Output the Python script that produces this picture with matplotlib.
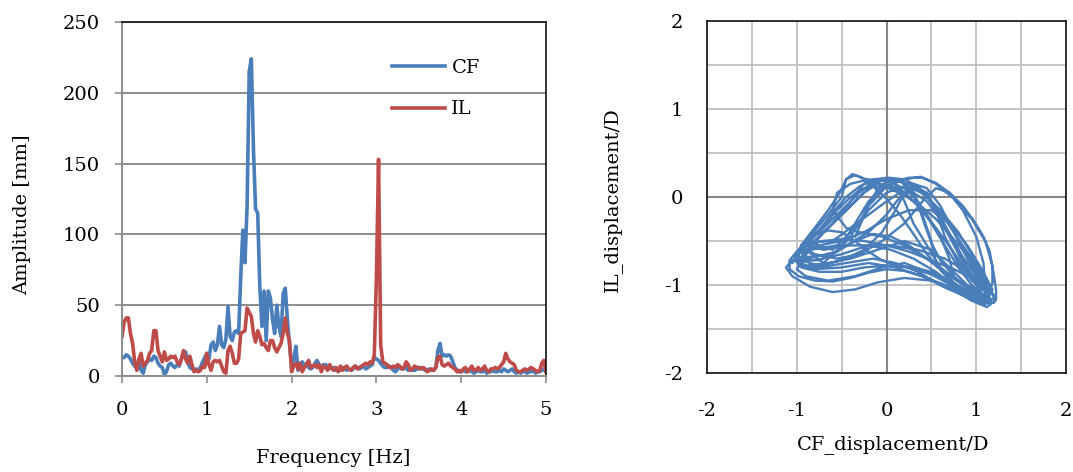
import numpy as np
import matplotlib
matplotlib.use("Agg")
import matplotlib.pyplot as plt

plt.rcParams["font.family"] = ["DejaVu Serif"]
plt.rcParams["axes.unicode_minus"] = False

# spectrum, 0 - 5 Hz every 0.025 Hz
freq = np.linspace(0, 5, 201)
cf_amp = [
    13, 13, 15, 14, 12, 9, 7, 6, 10, 4,
    2, 8, 10, 12, 11, 14, 13, 9, 7, 6,
    1, 3, 8, 9, 7, 6, 8, 7, 12, 16,
    17, 10, 6, 5, 4, 5, 4, 6, 10, 13,
    16, 12, 22, 24, 18, 22, 35, 22, 20, 26,
    49, 28, 25, 31, 32, 30, 70, 103, 80, 120,
    215, 224, 160, 118, 115, 63, 35, 60, 25, 60,
    55, 40, 30, 50, 35, 28, 58, 62, 40, 22,
    7, 12, 21, 4, 8, 10, 7, 9, 6, 5,
    6, 9, 11, 8, 6, 8, 8, 7, 6, 5,
    6, 4, 5, 4, 6, 5, 4, 5, 4, 5,
    7, 6, 5, 6, 7, 5, 6, 7, 8, 13,
    12, 11, 9, 7, 6, 6, 7, 6, 4, 3,
    5, 6, 5, 5, 6, 4, 5, 4, 4, 5,
    5, 6, 5, 4, 4, 5, 4, 4, 6, 18,
    23, 14, 15, 14, 15, 14, 10, 6, 4, 3,
    3, 4, 3, 3, 4, 3, 2, 3, 4, 3,
    3, 4, 2, 3, 3, 4, 3, 3, 4, 3,
    5, 4, 3, 4, 5, 3, 2, 3, 2, 3,
    3, 2, 3, 3, 4, 2, 3, 3, 4, 5,
    3,
]
il_amp = [
    28, 38, 41, 41, 30, 23, 10, 4, 12, 16,
    7, 9, 11, 16, 18, 32, 32, 18, 14, 10,
    17, 11, 12, 14, 13, 14, 10, 8, 12, 18,
    12, 9, 14, 8, 3, 4, 3, 4, 7, 6,
    16, 8, 4, 10, 11, 10, 11, 7, 3, 2,
    18, 21, 16, 9, 9, 12, 30, 31, 32, 48,
    45, 42, 30, 24, 32, 28, 22, 23, 20, 18,
    25, 25, 20, 17, 20, 23, 30, 41, 30, 25,
    3, 7, 9, 5, 9, 3, 6, 8, 11, 6,
    7, 8, 6, 8, 3, 7, 6, 4, 8, 5,
    4, 6, 3, 7, 4, 6, 7, 5, 4, 6,
    7, 5, 6, 7, 8, 9, 8, 10, 9, 15,
    70, 153, 22, 10, 9, 8, 6, 6, 7, 6,
    8, 7, 5, 6, 10, 8, 4, 5, 7, 6,
    6, 5, 6, 5, 3, 4, 5, 4, 6, 13,
    14, 8, 7, 8, 9, 7, 6, 5, 3, 4,
    3, 5, 6, 3, 5, 7, 4, 4, 6, 4,
    5, 7, 4, 3, 5, 5, 6, 5, 6, 8,
    10, 16, 12, 10, 9, 8, 4, 3, 3, 4,
    5, 4, 5, 6, 5, 4, 3, 4, 9, 11,
    3,
]

# orbit traced by hand (CF/D, IL/D)
orbit_x = [
    -0.35, -0.2, 0.0, 0.2, 0.38, 0.55, 0.75, 0.95, 1.1, 1.18, 1.22, 1.22, 1.12, 1.0, 0.8, 0.55, 0.3, 0.05,
    -0.2, -0.5, -0.8, -1.05, -1.12, -1.05, -0.85, -0.6, -0.35, -0.1, 0.2, 0.5, 0.8, 1.05, 1.15, 1.05, 0.85, 0.65, 0.45, 0.25, 0.05, -0.15,
    -0.3, -0.45, -0.6, -0.8, -0.95, -1.0, -0.9, -0.65, -0.4, -0.1, 0.2, 0.5, 0.75, 0.95, 1.1, 1.0, 0.8, 0.55, 0.35, 0.15, -0.1, -0.35, -0.45, -0.5, -0.65, -0.85,
    -0.9, -0.7, -0.45, -0.2, 0.0, 0.15, 0.3, 0.45, 0.6, 0.75, 0.9, 1.05, 1.15, 1.05, 0.85, 0.6, 0.35, 0.1, -0.15, -0.45, -0.75, -0.95,
    -0.95, -0.85, -0.65, -0.45, -0.25, -0.1, 0.05, 0.25, 0.45, 0.6, 0.7, 0.75, 0.65, 0.45, 0.2, -0.05, -0.35, -0.65, -0.9, -1.0,
    -0.8, -0.6, -0.4, -0.25, -0.05, 0.15, 0.3, 0.4, 0.5, 0.55, 0.7, 0.9, 1.1, 1.2, 1.12, 0.95, 0.8, 0.6, 0.4, 0.2, 0.0, -0.2, -0.35, -0.5,
    -0.6, -0.75, -0.9, -0.95, -0.8, -0.55, -0.3, -0.05, 0.2, 0.4, 0.55, 0.7, 0.85, 1.0, 1.08, 1.1, 0.95, 0.7, 0.45, 0.2, -0.05, -0.3,
    -0.45, -0.6, -0.55, -0.4, -0.2, 0.0, 0.2, 0.35, 0.5, 0.65, 0.8, 0.95, 1.15, 1.1, 0.9, 0.65, 0.35, 0.05, -0.25, -0.55, -0.85, -1.0, -0.95,
    -0.75, -0.5, -0.25, -0.05, 0.1, 0.2, 0.3, 0.45, 0.55, 0.65, 0.8, 0.95, 1.15, 1.18, 1.05, 0.9, 0.7, 0.5, 0.25, 0.0, -0.25, -0.5, -0.75,
    -0.85, -0.7, -0.5, -0.3, -0.15, 0.0, 0.1, 0.2, 0.3, 0.45, 0.6, 0.85, 1.05, 0.95, 0.7, 0.4, 0.1, -0.2, -0.5, -0.8, -0.98, -0.9,
    -0.7, -0.5, -0.35, -0.2, -0.05, 0.1, 0.25, 0.4, 0.55, 0.7, 0.85, 0.98, 1.08, 1.15, 1.18, 1.18, 1.13, 1.03, 0.9, 0.72,
    0.5, 0.25, 0.0, -0.25, -0.5, -0.75, -0.95,
    -1.02, -0.98, -0.88, -0.78, -0.65, -0.5, -0.35, -0.2, -0.05, 0.1, 0.3, 0.5, 0.7, 0.88, 1.02, 1.1, 1.08, 0.98, 0.85, 0.7,
    0.55, 0.38, 0.2, 0.02, -0.15, -0.3, -0.42, -0.55, -0.7, -0.85,
    -0.95, -0.9, -0.75, -0.55, -0.4, -0.28, -0.18, -0.08, 0.05, 0.18, 0.28, 0.35, 0.42, 0.5, 0.6, 0.75, 0.92, 1.08, 1.2, 1.2,
    1.1, 0.95, 0.75, 0.5, 0.25, 0.0, -0.25, -0.5, -0.72, -0.88,
    -1.0, -1.08, -1.08, -0.98, -0.8, -0.6, -0.4, -0.2, 0.0, 0.2, 0.4, 0.6, 0.8, 0.95, 1.08, 1.15, 1.12, 1.0, 0.85, 0.72,
    0.6, 0.48, 0.35, 0.2, 0.02, -0.15, -0.3, -0.45, -0.6, -0.75, -0.9,
    -0.6, -0.4, -0.2, 0.0, 0.15, 0.3, 0.45, 0.58, 0.7, 0.82, 0.95, 1.05, 1.0, 0.85, 0.65, 0.45, 0.25, 0.05, -0.15, -0.35,
    -0.55, -0.8, -1.0,
    -1.05, -0.95, -0.8, -0.65, -0.52, -0.45, -0.38, -0.28, -0.15, 0.0, 0.15, 0.3, 0.45, 0.62, 0.8, 0.98, 1.12,
]
orbit_y = [
    -0.45, -0.1, 0.12, 0.2, 0.23, 0.15, -0.02, -0.25, -0.5, -0.78, -1.05, -1.17, -1.25, -1.2, -1.05, -0.85, -0.7, -0.6,
    -0.55, -0.65, -0.72, -0.72, -0.8, -0.9, -1.02, -1.08, -1.05, -0.97, -0.92, -0.95, -1.05, -1.15, -1.1, -0.85, -0.55, -0.25, 0.0, 0.15, 0.2, 0.18,
    0.05, -0.1, -0.25, -0.45, -0.6, -0.7, -0.78, -0.75, -0.7, -0.6, -0.5, -0.6, -0.85, -1.05, -1.15, -1.0, -0.7, -0.35, -0.1, 0.1, 0.15, 0.25, 0.2, 0.0, -0.2, -0.45,
    -0.55, -0.6, -0.55, -0.4, -0.2, 0.0, 0.15, 0.1, -0.1, -0.4, -0.7, -0.95, -1.15, -1.2, -1.12, -1.0, -0.85, -0.75, -0.7, -0.75, -0.8, -0.78,
    -0.7, -0.55, -0.35, -0.15, 0.05, 0.15, 0.12, 0.0, -0.2, -0.45, -0.7, -0.9, -0.95, -0.85, -0.75, -0.8, -0.9, -0.95, -0.9, -0.82,
    -0.5, -0.3, -0.05, 0.15, 0.2, 0.18, 0.05, -0.2, -0.5, -0.75, -0.95, -1.1, -1.18, -1.15, -0.95, -0.65, -0.4, -0.15, 0.05, 0.12, 0.05, -0.15, -0.35, -0.5,
    -0.6, -0.55, -0.5, -0.55, -0.65, -0.7, -0.65, -0.5, -0.3, -0.05, 0.1, 0.05, -0.15, -0.45, -0.75, -1.0, -1.05, -0.9, -0.7, -0.55, -0.45, -0.4,
    -0.35, -0.15, 0.05, 0.15, 0.2, 0.18, 0.1, -0.05, -0.3, -0.55, -0.8, -1.0, -1.18, -1.05, -0.85, -0.7, -0.6, -0.55, -0.55, -0.55, -0.6, -0.65, -0.72,
    -0.78, -0.72, -0.6, -0.4, -0.15, 0.05, 0.12, 0.05, -0.15, -0.45, -0.75, -0.95, -1.12, -1.05, -0.8, -0.55, -0.3, -0.15, -0.15, -0.25, -0.4, -0.5, -0.55,
    -0.58, -0.4, -0.2, 0.0, 0.15, 0.2, 0.15, -0.05, -0.3, -0.55, -0.8, -1.0, -1.1, -1.12, -1.05, -0.9, -0.8, -0.75, -0.8, -0.82, -0.75, -0.6,
    -0.75, -0.55, -0.3, -0.05, 0.1, 0.18, 0.22, 0.22, 0.16, 0.05, -0.1, -0.28, -0.45, -0.62, -0.8, -0.98, -1.1, -1.14, -1.1, -1.0,
    -0.88, -0.8, -0.78, -0.8, -0.85, -0.85, -0.8,
    -0.72, -0.6, -0.5, -0.42, -0.38, -0.4, -0.5, -0.62, -0.72, -0.78, -0.8, -0.85, -0.95, -1.05, -1.12, -1.1, -0.95, -0.78, -0.6, -0.42,
    -0.25, -0.1, 0.02, 0.1, 0.12, 0.08, -0.02, -0.15, -0.32, -0.5,
    -0.62, -0.7, -0.72, -0.62, -0.45, -0.25, -0.05, 0.12, 0.2, 0.18, 0.08, -0.08, -0.3, -0.52, -0.72, -0.9, -1.05, -1.15, -1.2, -1.12,
    -1.02, -0.92, -0.82, -0.72, -0.62, -0.55, -0.5, -0.48, -0.5, -0.55,
    -0.62, -0.72, -0.82, -0.9, -0.95, -0.96, -0.92, -0.86, -0.82, -0.84, -0.9, -0.98, -1.08, -1.18, -1.22, -1.2, -1.08, -0.9, -0.68, -0.45,
    -0.22, -0.02, 0.12, 0.2, 0.22, 0.2, 0.12, 0.0, -0.18, -0.38, -0.52,
    -0.5, -0.35, -0.2, -0.05, 0.05, 0.05, -0.05, -0.22, -0.45, -0.68, -0.88, -1.0, -1.05, -0.98, -0.85, -0.7, -0.55, -0.45, -0.42, -0.5,
    -0.62, -0.68, -0.68,
    -0.75, -0.55, -0.35, -0.15, 0.05, 0.2, 0.26, 0.22, 0.12, -0.02, -0.2, -0.42, -0.65, -0.85, -1.02, -1.15, -1.2,
]

blue = "#4A7EBB"
red = "#BE4B48"
fs = 14

fig = plt.figure(figsize=(10.73, 4.72), dpi=100)

# ---- left: amplitude spectrum
ax1 = fig.add_axes([0.1137, 0.2034, 0.3952, 0.75])
ax1.plot(freq, cf_amp, color=blue, lw=2.6, label="CF", solid_joinstyle="round")
ax1.plot(freq, il_amp, color=red, lw=2.6, label="IL", solid_joinstyle="round")
ax1.set_xlim(0, 5)
ax1.set_ylim(0, 250)
ax1.set_xticks(range(6))
ax1.set_yticks(range(0, 251, 50))
ax1.yaxis.grid(True, color="#8C8C8C", lw=1.4)
ax1.set_axisbelow(True)
for s in ["left", "bottom"]:
    ax1.spines[s].set_color("#8C8C8C")
    ax1.spines[s].set_linewidth(1.4)
for s in ["top", "right"]:
    ax1.spines[s].set_color("black")
    ax1.spines[s].set_linewidth(1.1)
ax1.tick_params(axis="both", direction="out", length=5, width=1.2, color="#8C8C8C", labelsize=fs)
ax1.tick_params(axis="x", pad=13)
ax1.tick_params(axis="y", pad=11)
ax1.legend(loc="upper left", bbox_to_anchor=(0.637, 0.895), frameon=False, fontsize=fs,
           handlelength=2.7, handletextpad=0.35, labelspacing=1.2, borderpad=0, borderaxespad=0)
fig.text(22 / 1073, 1 - 215 / 472, "Amplitude [mm]", rotation=90, ha="center", va="center", fontsize=fs)
fig.text(333 / 1073, 1 - 458 / 472, "Frequency [Hz]", ha="center", va="center", fontsize=fs)

# ---- right: orbit
ax2 = fig.add_axes([0.6589, 0.2097, 0.3346, 0.7458])
ax2.plot(orbit_x, orbit_y, color=blue, lw=1.7, solid_joinstyle="round", zorder=3)
ax2.set_xlim(-2, 2)
ax2.set_ylim(-2, 2)
ax2.set_xticks(range(-2, 3))
ax2.set_yticks(range(-2, 3))
ax2.set_xticks(np.arange(-2, 2.01, 0.5), minor=True)
ax2.set_yticks(np.arange(-2, 2.01, 0.5), minor=True)
ax2.grid(True, which="both", color="#C0C0C0", lw=1.3)
ax2.axhline(0, color="#868686", lw=1.5, zorder=2)
ax2.axvline(0, color="#868686", lw=1.5, zorder=2)
ax2.set_axisbelow(True)
for s in ax2.spines.values():
    s.set_color("black")
    s.set_linewidth(1.1)
ax2.tick_params(axis="both", which="both", length=0, labelsize=fs)
ax2.tick_params(axis="x", pad=21)
ax2.tick_params(axis="y", pad=17)
fig.text(612 / 1073, 1 - 200 / 472, "IL_displacement/D", rotation=90, ha="center", va="center", fontsize=fs)
fig.text(893 / 1073, 1 - 445 / 472, "CF_displacement/D", ha="center", va="center", fontsize=fs)

fig.savefig("out.png", dpi=100)
